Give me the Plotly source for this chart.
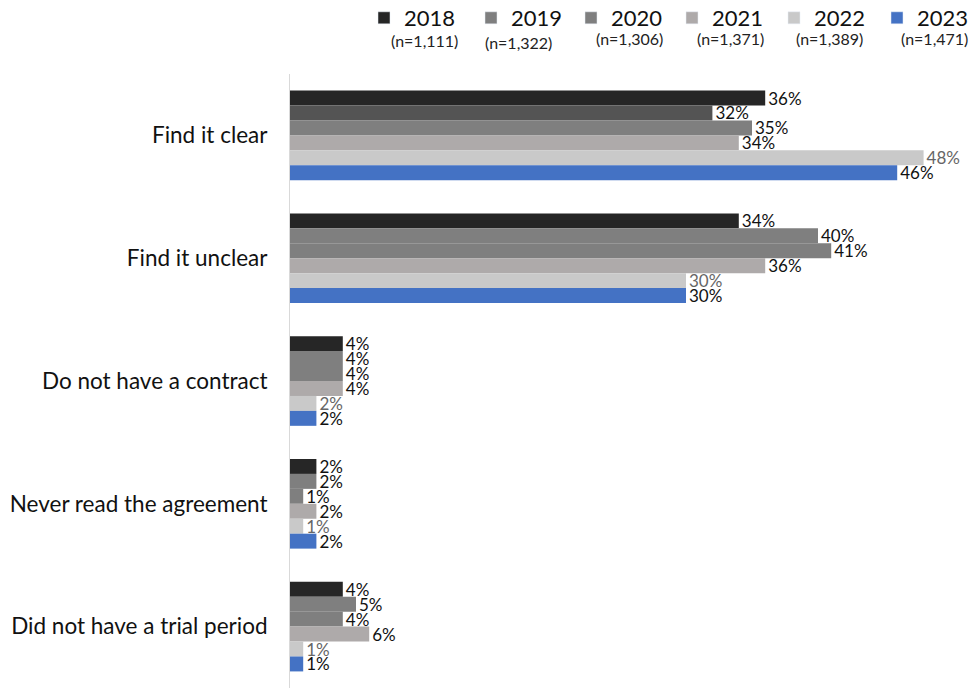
import plotly.graph_objects as go

categories = [
    "Find it clear",
    "Find it unclear",
    "Do not have a contract",
    "Never read the agreement",
    "Did not have a trial period",
]
years = ["2018", "2019", "2020", "2021", "2022", "2023"]
sample_sizes = ["(n=1,111)", "(n=1,322)", "(n=1,306)", "(n=1,371)", "(n=1,389)", "(n=1,471)"]

v2018 = [36, 34, 4, 2, 4]
v2019 = [32, 40, 4, 2, 5]
v2020 = [35, 41, 4, 1, 4]
v2021 = [34, 36, 4, 2, 6]
v2022 = [48, 30, 2, 1, 1]
v2023 = [46, 30, 2, 2, 1]
series = [v2018, v2019, v2020, v2021, v2022, v2023]

bar_colors = [
    "#262626",
    ["#545454", "#7f7f7f", "#7f7f7f", "#7f7f7f", "#7f7f7f"],
    "#7f7f7f",
    "#aeaaaa",
    "#c9c9c9",
    "#4472c4",
]
legend_colors = ["#262626", "#7f7f7f", "#7f7f7f", "#aeaaaa", "#c9c9c9", "#4472c4"]
label_colors = ["#111111", "#111111", "#111111", "#111111", "#666666", "#111111"]

FONT = "Lato"
W, H = 970, 688
plot_left, plot_right, plot_top = 290, 20, 74
plot_w = W - plot_left - plot_right
plot_h = H - plot_top

fig = go.Figure()
for yr, vals, col, lcol in zip(years, series, bar_colors, label_colors):
    fig.add_trace(go.Bar(
        y=categories,
        x=vals,
        name=yr,
        orientation="h",
        marker=dict(color=col, line=dict(width=0)),
        text=[f"{v}%" for v in vals],
        textposition="outside",
        textfont=dict(family=FONT, size=17, color=lcol),
        cliponaxis=False,
        constraintext="none",
        showlegend=False,
        hoverinfo="skip",
    ))

# one small legend per year, each placed on its own above the plot;
# legend-only traces sit on a hidden overlay axis so they take no bar slots
legend_px = [364, 471, 571, 672, 774, 877]
legend_layouts = {}
for i, (yr, col, lx) in enumerate(zip(years, legend_colors, legend_px)):
    key = "legend" if i == 0 else f"legend{i + 1}"
    fig.add_trace(go.Bar(
        y=[None], x=[None], name=yr, orientation="h",
        marker=dict(color=col), showlegend=True,
        xaxis="x2", yaxis="y2", legend=key,
    ))
    legend_layouts[key] = dict(
        orientation="h",
        xref="container", x=lx / W, xanchor="left",
        yref="container", y=1 - 18 / H, yanchor="middle",
        font=dict(family=FONT, size=22, color="#111111"),
        bgcolor="rgba(0,0,0,0)",
        itemclick=False, itemdoubleclick=False,
    )

n_centers = [424, 518, 629, 730, 829, 934]
n_rows = [41, 43, 39, 39, 39, 39]
for cx, cy, txt in zip(n_centers, n_rows, sample_sizes):
    fig.add_annotation(
        x=(cx - plot_left) / plot_w, xref="paper", xanchor="center",
        y=1 + (plot_top - cy) / plot_h, yref="paper", yanchor="middle",
        text=txt, showarrow=False,
        font=dict(family=FONT, size=16, color="#222222"),
    )

fig.update_layout(
    width=W, height=H,
    margin=dict(l=plot_left, r=plot_right, t=plot_top, b=0),
    plot_bgcolor="white", paper_bgcolor="white",
    barmode="group", bargap=0.27, bargroupgap=0,
    font=dict(family=FONT, color="#111111"),
    xaxis=dict(range=[0, 50], visible=False, showgrid=False, zeroline=False),
    xaxis2=dict(overlaying="x", visible=False),
    yaxis=dict(
        autorange="reversed",
        showgrid=False,
        showline=True, linecolor="#d9d9d9", linewidth=1,
        ticks="", ticklabelstandoff=17,
        tickfont=dict(family=FONT, size=22.5, color="#111111"),
    ),
    yaxis2=dict(overlaying="y", visible=False),
    **legend_layouts,
)

fig.write_html("out.html")
